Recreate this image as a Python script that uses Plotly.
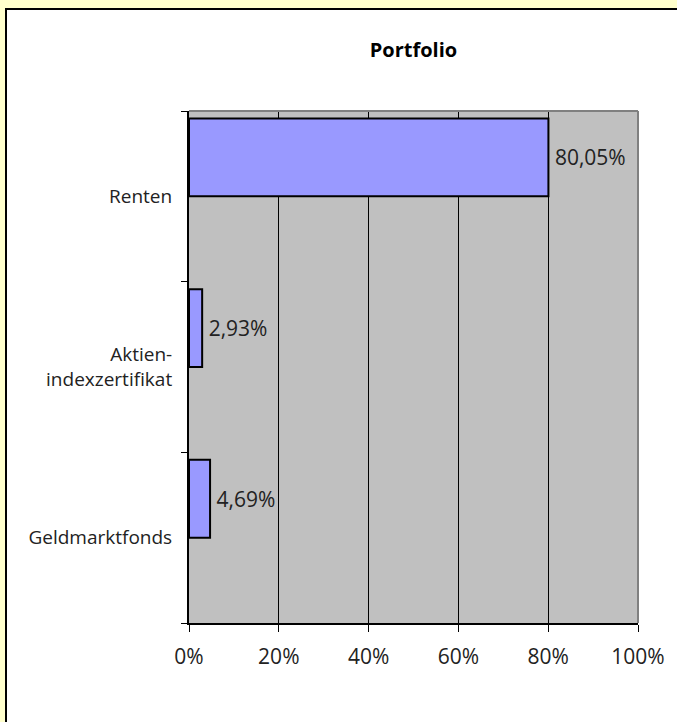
import plotly.graph_objects as go

categories = ["Geldmarktfonds", "Aktien-<br>indexzertifikat", "Renten"]
values = [4.69, 2.93, 80.05]
value_labels = ["4,69%", "2,93%", "80,05%"]
x_ticks = [0, 20, 40, 60, 80, 100]
x_tick_labels = ["0%", "20%", "40%", "60%", "80%", "100%"]

W, H = 677, 722
L, R, T, B = 189, 39, 111, 99
pw, ph = W - L - R, H - T - B

def px_x(p):
    return (p - L) / pw

def px_y(p):
    return (H - B - p) / ph

FONT = "Open Sans"
NUM_SIZE = 21
CAT_SIZE = 19

fig = go.Figure()
fig.add_trace(go.Bar(
    y=categories, x=values, orientation="h",
    offset=0, width=0.456,
    marker=dict(color="#9999FF", line=dict(color="black", width=2)),
    text=["\u2009" + t for t in value_labels], textposition="outside",
    constraintext="none", cliponaxis=False,
    textfont=dict(family=FONT, size=NUM_SIZE, color="#222222"),
    hoverinfo="skip",
))

shapes = [
    dict(type="rect", xref="paper", yref="paper", layer="below",
         x0=px_x(6), x1=px_x(690), y0=px_y(9), y1=px_y(740),
         fillcolor="white", line=dict(color="black", width=2)),
    dict(type="rect", xref="paper", yref="paper", layer="below",
         x0=0, x1=1, y0=0, y1=1, fillcolor="#C0C0C0", line=dict(width=0)),
    dict(type="line", xref="paper", yref="paper", layer="above",
         x0=0, x1=1, y0=1, y1=1, line=dict(color="#808080", width=2)),
    dict(type="line", xref="paper", yref="paper", layer="above",
         x0=1, x1=1, y0=0, y1=1, line=dict(color="#808080", width=2)),
]

fig.update_layout(
    width=W, height=H,
    margin=dict(l=L, r=R, t=T, b=B),
    paper_bgcolor="#FFFFCC",
    plot_bgcolor="rgba(0,0,0,0)",
    showlegend=False,
    shapes=shapes,
    font=dict(family=FONT, size=CAT_SIZE, color="#222222"),
    title=dict(text="<b>Portfolio</b>", x=0.5, xref="paper", xanchor="center",
               y=1 - 50 / H, yref="container", yanchor="middle",
               font=dict(family=FONT, size=20, color="black")),
    xaxis=dict(range=[0, 100], tickvals=x_ticks, ticktext=x_tick_labels,
               showgrid=True, gridcolor="black", gridwidth=1,
               showline=True, linecolor="black", linewidth=2,
               ticks="outside", ticklen=7, tickcolor="black", tickwidth=1,
               zeroline=False, fixedrange=True, ticklabelstandoff=7,
               tickfont=dict(family=FONT, size=NUM_SIZE, color="#222222")),
    yaxis=dict(categoryorder="array", categoryarray=categories,
               range=[-0.5, 2.5],
               showgrid=False, showline=True, linecolor="black", linewidth=2,
               ticks="outside", ticklen=6, tickcolor="black", tickwidth=1,
               tickson="boundaries", zeroline=False, fixedrange=True,
               ticklabelstandoff=11,
               tickfont=dict(family=FONT, size=CAT_SIZE, color="#222222")),
)

fig.write_html("out.html", config={"displayModeBar": False},
               post_script="document.body.style.margin='0';document.body.style.overflow='hidden';")
